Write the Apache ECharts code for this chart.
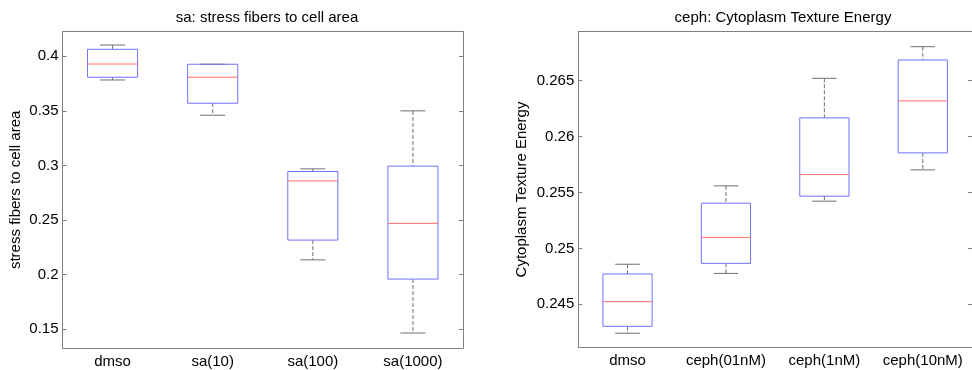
<!DOCTYPE html>
<html>
<head>
<meta charset="utf-8">
<script src="https://cdn.jsdelivr.net/npm/echarts@6/dist/echarts.min.js"></script>
<style>
  html, body { margin: 0; padding: 0; background: #fff; }
  #chart { width: 972px; height: 370px; }
</style>
</head>
<body>
<div id="chart"></div>
<script>
// categories for each panel
const saCategories = ['dmso', 'sa(10)', 'sa(100)', 'sa(1000)'];
const cephCategories = ['dmso', 'ceph(01nM)', 'ceph(1nM)', 'ceph(10nM)'];

// box stats per group: [lower whisker, Q1, median, Q3, upper whisker]
const saBoxes = [
  [0.3783, 0.3808, 0.3929, 0.4064, 0.4103],
  [0.3460, 0.3570, 0.3808, 0.3927, 0.3927],
  [0.2136, 0.2317, 0.2859, 0.2945, 0.2969],
  [0.1466, 0.1960, 0.2470, 0.2994, 0.3500]
];
const cephBoxes = [
  [0.24241, 0.24303, 0.24523, 0.24771, 0.24858],
  [0.24776, 0.24866, 0.25098, 0.25404, 0.25559],
  [0.25422, 0.25467, 0.25660, 0.26167, 0.26521],
  [0.25702, 0.25854, 0.26319, 0.26685, 0.26804]
];

// axis ranges
const saRange = [0.1329, 0.4225];
const cephRange = [0.24115, 0.26938];

const FONT = "'Liberation Sans', Arial, sans-serif";
const FONT_SIZE = 15;
const FRAME = '#808080';
const BOX_COLOR = '#7070ff';
const MEDIAN_COLOR = '#ff6e6e';
const WHISKER_COLOR = '#6f6f6f';

const chart = echarts.init(document.getElementById('chart'));

// draws one MATLAB-style box with dashed whiskers and short caps
function renderBox(params, api) {
  const idx = api.value(0);
  const low = api.coord([idx, api.value(1)]);
  const q1 = api.coord([idx, api.value(2)]);
  const med = api.coord([idx, api.value(3)]);
  const q3 = api.coord([idx, api.value(4)]);
  const high = api.coord([idx, api.value(5)]);
  const bw = api.size([1, 0])[0] * 0.5;
  const cx = low[0];
  const capHalf = bw / 4;
  const dashed = { stroke: WHISKER_COLOR, lineWidth: 1, lineDash: [4, 2] };
  const solid = { stroke: WHISKER_COLOR, lineWidth: 1 };
  return {
    type: 'group',
    children: [
      { type: 'line', shape: { x1: cx, y1: high[1], x2: cx, y2: q3[1] }, style: dashed },
      { type: 'line', shape: { x1: cx, y1: q1[1], x2: cx, y2: low[1] }, style: dashed },
      { type: 'line', shape: { x1: cx - capHalf, y1: high[1], x2: cx + capHalf, y2: high[1] }, style: solid },
      { type: 'line', shape: { x1: cx - capHalf, y1: low[1], x2: cx + capHalf, y2: low[1] }, style: solid },
      {
        type: 'rect',
        shape: { x: cx - bw / 2, y: q3[1], width: bw, height: q1[1] - q3[1] },
        style: { fill: 'none', stroke: BOX_COLOR, lineWidth: 1 }
      },
      { type: 'line', shape: { x1: cx - bw / 2, y1: med[1], x2: cx + bw / 2, y2: med[1] }, style: { stroke: MEDIAN_COLOR, lineWidth: 1 } }
    ]
  };
}

function xAxes(cats, gridIndex) {
  const base = {
    type: 'category',
    data: cats,
    gridIndex: gridIndex,
    boundaryGap: true,
    axisLine: { lineStyle: { color: FRAME, width: 1 } },
    axisTick: { inside: true, alignWithLabel: true, interval: 0, length: 4, lineStyle: { color: FRAME } },
    splitLine: { show: false }
  };
  return [
    Object.assign({}, base, {
      position: 'bottom',
      axisLabel: {
        color: '#000', fontFamily: FONT, fontSize: FONT_SIZE, margin: 6,
        interval: 0, hideOverlap: false
      }
    }),
    Object.assign({}, base, { position: 'top', axisLabel: { show: false } })
  ];
}

function yAxes(range, name, gap, gridIndex) {
  const base = {
    type: 'value',
    gridIndex: gridIndex,
    min: range[0],
    max: range[1],
    axisLine: { show: true, lineStyle: { color: FRAME, width: 1 } },
    axisTick: { show: true, inside: true, length: 4, lineStyle: { color: FRAME } },
    splitLine: { show: false }
  };
  return [
    Object.assign({}, base, {
      position: 'left',
      name: name,
      nameLocation: 'middle',
      nameGap: gap,
      nameTextStyle: { color: '#000', fontFamily: FONT, fontSize: FONT_SIZE },
      axisLabel: {
        color: '#000', fontFamily: FONT, fontSize: FONT_SIZE, margin: 4,
        showMinLabel: false, showMaxLabel: false
      }
    }),
    Object.assign({}, base, { position: 'right', axisLabel: { show: false } })
  ];
}

const option = {
  animation: false,
  backgroundColor: '#fff',
  title: [
    {
      text: 'sa: stress fibers to cell area',
      left: 262, top: 5, textAlign: 'center',
      textStyle: { color: '#000', fontFamily: FONT, fontSize: FONT_SIZE, fontWeight: 'normal' }
    },
    {
      text: 'ceph: Cytoplasm Texture Energy',
      left: 778, top: 5, textAlign: 'center',
      textStyle: { color: '#000', fontFamily: FONT, fontSize: FONT_SIZE, fontWeight: 'normal' }
    }
  ],
  grid: [
    { left: 62.5, top: 31.7, width: 400.5, height: 316.3, containLabel: false },
    { left: 578.3, top: 31.7, width: 400, height: 315.6, containLabel: false }
  ],
  xAxis: [].concat(xAxes(saCategories, 0), xAxes(cephCategories, 1)),
  yAxis: [].concat(
    yAxes(saRange, 'stress fibers to cell area', 39, 0),
    yAxes(cephRange, 'Cytoplasm Texture Energy', 49, 1)
  ),
  series: [
    {
      type: 'custom',
      xAxisIndex: 0,
      yAxisIndex: 0,
      renderItem: renderBox,
      encode: { x: 0, y: [1, 2, 3, 4, 5] },
      data: saBoxes.map((b, i) => [i].concat(b))
    },
    {
      type: 'custom',
      xAxisIndex: 2,
      yAxisIndex: 2,
      renderItem: renderBox,
      encode: { x: 0, y: [1, 2, 3, 4, 5] },
      data: cephBoxes.map((b, i) => [i].concat(b))
    }
  ]
};

chart.setOption(option);
</script>
</body>
</html>
